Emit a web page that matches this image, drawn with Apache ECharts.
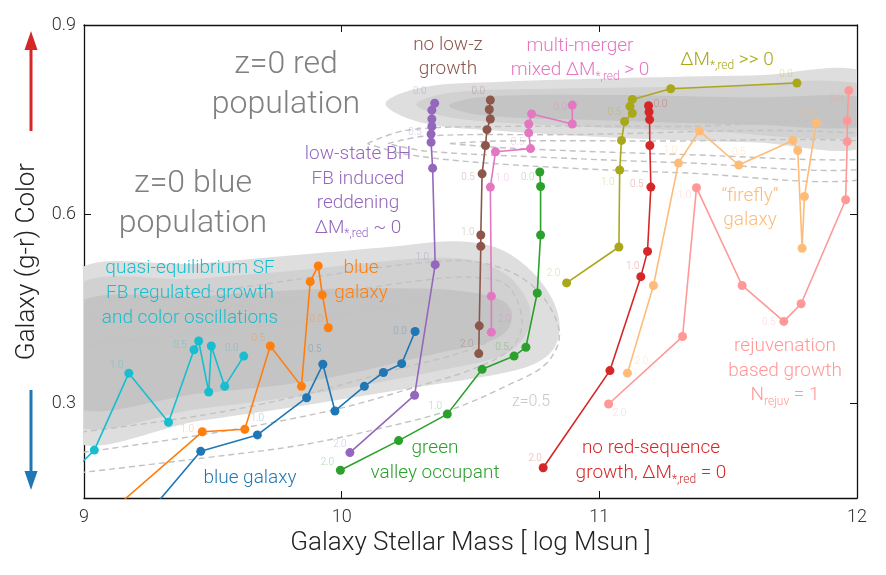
<!DOCTYPE html>
<html>
<head>
<meta charset="utf-8">
<script src="https://cdn.jsdelivr.net/npm/echarts@6/dist/echarts.min.js"></script>
<style>
  html, body { margin: 0; padding: 0; background: #fff; }
  #chart { width: 886px; height: 575px; }
</style>
</head>
<body>
<div id="chart"></div>
<script>
// galaxy tracks: [log Mstar, g-r], ordered from t=0.0 backwards in time
const cyanTrack = [[9.620,0.375],[9.546,0.327],[9.494,0.391],[9.484,0.318],[9.445,0.399],[9.427,0.385],[9.328,0.270],[9.174,0.348],[9.040,0.226],[8.95,0.189]]
const orangeTrack = [[9.948,0.420],[9.925,0.472],[9.909,0.518],[9.878,0.493],[9.844,0.327],[9.723,0.391],[9.624,0.259],[9.459,0.255],[9.023,0.10]]
const blueTrack = [[10.285,0.414],[10.233,0.363],[10.162,0.349],[10.088,0.327],[9.974,0.288],[9.927,0.362],[9.864,0.309],[9.673,0.250],[9.453,0.224],[9.196,0.10]]
const purpleTrack = [[10.361,0.776],[10.350,0.765],[10.350,0.751],[10.350,0.739],[10.347,0.727],[10.347,0.714],[10.353,0.673],[10.363,0.520],[10.283,0.313],[10.032,0.222]]
const brownTrack = [[10.577,0.781],[10.573,0.766],[10.577,0.751],[10.564,0.734],[10.558,0.709],[10.545,0.664],[10.540,0.567],[10.540,0.549],[10.534,0.423],[10.532,0.379]]
const pinkTrack = [[10.895,0.773],[10.895,0.743],[10.737,0.759],[10.726,0.743],[10.726,0.729],[10.733,0.704],[10.597,0.699],[10.577,0.643],[10.581,0.470],[10.581,0.413]]
const greenTrack = [[10.769,0.667],[10.772,0.644],[10.772,0.567],[10.759,0.475],[10.715,0.389],[10.669,0.375],[10.545,0.354],[10.410,0.283],[10.221,0.241],[9.995,0.194]]
const oliveTrack = [[11.767,0.808],[11.277,0.799],[11.128,0.782],[11.119,0.771],[11.128,0.760],[11.098,0.747],[11.086,0.717],[11.079,0.670],[11.076,0.548],[10.873,0.491]]
const redTrack = [[11.191,0.772],[11.193,0.762],[11.195,0.750],[11.196,0.709],[11.200,0.643],[11.187,0.541],[11.161,0.501],[11.041,0.352],[10.782,0.198]]
const fireflyTrack = [[11.842,0.745],[11.796,0.628],[11.787,0.546],[11.770,0.701],[11.751,0.717],[11.541,0.678],[11.388,0.732],[11.307,0.681],[11.210,0.487],[11.109,0.348]]
const rejuvTrack = [[11.968,0.796],[11.962,0.748],[11.962,0.715],[11.956,0.623],[11.783,0.458],[11.716,0.430],[11.554,0.487],[11.377,0.642],[11.323,0.406],[11.036,0.299]]

// lookback-time labels: [point index, text]
const cyanTimes = [[0,'0.0'],[5,'0.5'],[7,'1.0']]
const orangeTimes = [[0,'0.0'],[5,'0.5'],[7,'1.0']]
const blueTimes = [[0,'0.0'],[5,'0.5'],[7,'1.0']]
const purpleTimes = [[0,'0.0'],[4,'0.5'],[7,'1.0'],[9,'2.0']]
const brownTimes = [[0,'0.0'],[5,'0.5'],[6,'1.0'],[9,'2.0']]
const pinkTimes = [[0,'0.0'],[5,'0.5'],[7,'1.0'],[9,'2.0']]
const greenTimes = [[0,'0.0'],[5,'0.5'],[7,'1.0'],[9,'2.0']]
const oliveTimes = [[0,'0.0'],[5,'0.5'],[7,'1.0'],[9,'2.0']]
const redTimes = [[0,'0.0'],[4,'0.5'],[6,'1.0'],[8,'2.0']]
const fireflyTimes = [[0,'0.0'],[5,'0.5'],[7,'1.0'],[9,'2.0']]
const rejuvTimes = [[0,'0.0'],[5,'0.5'],[7,'1.0'],[9,'2.0']]

// z=0 population density regions (outer -> inner)
const redPopOuter = [[10.17,0.775],[10.311,0.801],[10.623,0.810],[11.089,0.816],[11.595,0.820],[12.05,0.822],[12.05,0.710],[11.595,0.714],[11.089,0.721],[10.623,0.732],[10.311,0.745]]
const redPopMid = [[10.29,0.774],[10.428,0.793],[10.817,0.799],[11.401,0.802],[12.05,0.803],[12.05,0.727],[11.401,0.732],[10.817,0.741],[10.428,0.753]]
const redPopCore = [[10.416,0.772],[10.545,0.786],[11.012,0.789],[11.6,0.785],[12.05,0.783],[12.05,0.741],[11.6,0.742],[11.012,0.749],[10.545,0.757]]
const bluePopOuter = [[8.95,0.502],[9.455,0.522],[9.903,0.538],[10.233,0.550],[10.424,0.557],[10.584,0.549],[10.700,0.523],[10.798,0.479],[10.844,0.432],[10.829,0.391],[10.759,0.365],[10.623,0.348],[10.292,0.326],[9.903,0.300],[9.455,0.273],[8.95,0.245]]
const bluePopMid = [[8.95,0.480],[9.455,0.498],[9.903,0.514],[10.311,0.530],[10.506,0.527],[10.642,0.503],[10.720,0.463],[10.732,0.432],[10.700,0.400],[10.623,0.376],[10.428,0.356],[9.903,0.316],[9.455,0.292],[8.95,0.270]]
const bluePopCore = [[8.95,0.453],[9.455,0.470],[9.903,0.481],[10.311,0.482],[10.506,0.476],[10.623,0.463],[10.661,0.443],[10.642,0.416],[10.564,0.397],[10.389,0.381],[9.903,0.337],[9.455,0.316],[8.95,0.297]]

// z=0.5 contours
const blueLoopA = [[8.9,0.455],[9.455,0.476],[9.903,0.501],[10.311,0.523],[10.545,0.523],[10.739,0.487],[10.844,0.416],[10.798,0.365],[10.646,0.329],[10.416,0.289],[10.156,0.261],[9.844,0.234],[9.455,0.213],[8.9,0.186]]
const blueLoopB = [[8.9,0.428],[9.455,0.448],[9.903,0.471],[10.311,0.495],[10.506,0.500],[10.642,0.487],[10.700,0.432],[10.661,0.389],[10.525,0.357],[10.311,0.329],[9.961,0.289],[9.455,0.250],[8.9,0.217]]
const blueLoopC = [[8.9,0.389],[9.455,0.411],[9.903,0.435],[10.311,0.463],[10.467,0.474],[10.584,0.463],[10.623,0.432],[10.584,0.403],[10.467,0.381],[10.233,0.356],[9.844,0.313],[9.455,0.281],[8.9,0.250]]
const redLoopA = [[10.10,0.712],[10.25,0.733],[10.6,0.739],[11.3,0.739],[12.1,0.738],[12.1,0.660],[11.3,0.666],[10.6,0.680],[10.25,0.695],[10.10,0.712]]
const redLoopB = [[10.18,0.712],[10.33,0.724],[10.8,0.726],[12.1,0.725],[12.1,0.674],[11.3,0.682],[10.8,0.690],[10.33,0.700],[10.18,0.712]]
const redLoopC = [[10.42,0.712],[10.6,0.716],[11.2,0.716],[12.1,0.714],[12.1,0.688],[11.3,0.695],[10.8,0.702],[10.6,0.706],[10.42,0.712]]

const yTicks = [0.3, 0.6, 0.9]

// label offsets (px) for the time labels, same order as the *Times arrays
const offs = {
  cyan: [[-12,-8],[-14,-4],[-12,-8]],
  orange: [[-12,-8],[-12,-8],[-15,-2]],
  blue: [[-15,0],[-8,-15],[0,-16]],
  purple: [[-15,-12],[-16,-2],[-13,-7],[-10,-8]],
  brown: [[-12,-9],[-14,4],[-13,-3],[-12,-9]],
  pink: [[-12,2],[-13,-6],[12,-9],[13,-13]],
  green: [[-12,6],[-12,-9],[-12,-8],[-13,-8]],
  olive: [[-11,-9],[-10,-9],[-12,12],[-13,-9]],
  red: [[12,-1],[-14,-3],[-8,-10],[-8,-9]],
  firefly: [[-8,-9],[0,-13],[-8,-13],[14,-12]],
  rejuv: [[-12,8],[-15,1],[-12,8],[11,9]]
}

const FONT = 'Roboto'

function trackSeries(pts, times, off, color) {
  const data = pts.map(p => ({ value: p }))
  times.forEach((t, k) => {
    data[t[0]].label = { show: true, formatter: t[1], position: 'inside', offset: off[k] }
  })
  return {
    type: 'line',
    data: data,
    symbol: 'circle',
    symbolSize: 9,
    showSymbol: true,
    lineStyle: { color: color, width: 1.6 },
    itemStyle: { color: color },
    label: { show: false, color: color, opacity: 0.38, fontSize: 10, fontFamily: FONT, fontWeight: 300 },
    emphasis: { disabled: true },
    z: 5
  }
}

function shade(poly, color) {
  return {
    type: 'custom',
    data: [poly[0]],
    silent: true,
    z: 1,
    renderItem(params, api) {
      const cs = params.coordSys
      return {
        type: 'polygon',
        shape: { points: poly.map(p => api.coord(p)), smooth: 0.35 },
        style: { fill: color },
        clipPath: { type: 'rect', shape: { x: cs.x, y: cs.y, width: cs.width, height: cs.height } }
      }
    }
  }
}

function dashed(poly) {
  return {
    type: 'custom',
    data: [poly[0]],
    silent: true,
    z: 2,
    renderItem(params, api) {
      const cs = params.coordSys
      return {
        type: 'polyline',
        shape: { points: poly.map(p => api.coord(p)), smooth: 0.35 },
        style: { stroke: '#c2c2c2', lineWidth: 1.4, lineDash: [6, 4], fill: null },
        clipPath: { type: 'rect', shape: { x: cs.x, y: cs.y, width: cs.width, height: cs.height } }
      }
    }
  }
}

const sub = { fontSize: 12, verticalAlign: 'bottom', lineHeight: 14, fontFamily: FONT, fontWeight: 300 }
function txt(x, y, text, color, size, lh, rich) {
  const style = {
    text: text, fill: color, align: 'center', verticalAlign: 'middle',
    fontSize: size, fontFamily: FONT, fontWeight: 300, lineHeight: lh
  }
  if (rich) {
    style.rich = {
      n: { fontSize: size, lineHeight: lh, fontFamily: FONT, fontWeight: 300, fill: color, color: color },
      s: Object.assign({ fill: color, color: color }, sub)
    }
  }
  return { type: 'text', x: x, y: y, z: 100, silent: true, style: style }
}

const chart = echarts.init(document.getElementById('chart'), null, { renderer: 'canvas' })

chart.setOption({
  animation: false,
  backgroundColor: '#fff',
  grid: { left: 84, right: 29, top: 25, bottom: 77 },
  xAxis: [{
    type: 'value', min: 9, max: 12, interval: 1,
    name: 'Galaxy Stellar Mass [ log Msun ]', nameLocation: 'middle', nameGap: 30,
    nameTextStyle: { fontSize: 26, fontFamily: FONT, fontWeight: 300, color: '#222' },
    axisLine: { show: true, lineStyle: { color: '#111', width: 1.3 } },
    axisTick: { show: true, inside: true, length: 7, lineStyle: { color: '#111' } },
    axisLabel: { fontSize: 18, fontFamily: FONT, fontWeight: 300, color: '#333', margin: 10 },
    splitLine: { show: false }
  }, {
    type: 'value', min: 9, max: 12, interval: 1, position: 'top',
    axisLine: { show: true, lineStyle: { color: '#111', width: 1.3 } },
    axisTick: { show: true, inside: true, length: 7, lineStyle: { color: '#111' } },
    axisLabel: { show: false },
    splitLine: { show: false }
  }],
  yAxis: [{
    type: 'value', min: 0.15, max: 0.9,
    name: 'Galaxy (g-r) Color', nameLocation: 'middle', nameGap: 38, nameRotate: 90,
    nameTextStyle: { fontSize: 26, fontFamily: FONT, fontWeight: 300, color: '#222' },
    axisLine: { show: true, lineStyle: { color: '#111', width: 1.3 } },
    axisTick: { show: true, inside: true, length: 7, customValues: yTicks, lineStyle: { color: '#111' } },
    axisLabel: { fontSize: 18, fontFamily: FONT, fontWeight: 300, color: '#333', margin: 8,
      customValues: yTicks, formatter: v => v.toFixed(1) },
    splitLine: { show: false }
  }, {
    type: 'value', min: 0.15, max: 0.9, position: 'right',
    axisLine: { show: true, lineStyle: { color: '#111', width: 1.3 } },
    axisTick: { show: true, inside: true, length: 7, customValues: yTicks, lineStyle: { color: '#111' } },
    axisLabel: { show: false },
    splitLine: { show: false }
  }],
  series: [
    shade(bluePopOuter, '#dedede'),
    shade(bluePopMid, '#d1d1d1'),
    shade(bluePopCore, '#c4c4c4'),
    shade(redPopOuter, '#dedede'),
    shade(redPopMid, '#d1d1d1'),
    shade(redPopCore, '#c4c4c4'),
    dashed(blueLoopA), dashed(blueLoopB), dashed(blueLoopC),
    dashed(redLoopA), dashed(redLoopB), dashed(redLoopC),
    trackSeries(cyanTrack, cyanTimes, offs.cyan, '#17becf'),
    trackSeries(orangeTrack, orangeTimes, offs.orange, '#ff7f0e'),
    trackSeries(blueTrack, blueTimes, offs.blue, '#1f77b4'),
    trackSeries(purpleTrack, purpleTimes, offs.purple, '#9467bd'),
    trackSeries(brownTrack, brownTimes, offs.brown, '#8c564b'),
    trackSeries(pinkTrack, pinkTimes, offs.pink, '#e377c2'),
    trackSeries(greenTrack, greenTimes, offs.green, '#2ca02c'),
    trackSeries(oliveTrack, oliveTimes, offs.olive, '#a9a81a'),
    trackSeries(redTrack, redTimes, offs.red, '#d62728'),
    trackSeries(fireflyTrack, fireflyTimes, offs.firefly, '#ffbb78'),
    trackSeries(rejuvTrack, rejuvTimes, offs.rejuv, '#ff9896')
  ],
  graphic: [
    // colour arrows next to the y axis name
    { type: 'line', shape: { x1: 31, y1: 131, x2: 31, y2: 48 }, style: { stroke: '#d62728', lineWidth: 3 } },
    { type: 'polygon', shape: { points: [[31, 31], [24.5, 50], [37.5, 50]] }, style: { fill: '#d62728' } },
    { type: 'line', shape: { x1: 31, y1: 390, x2: 31, y2: 473 }, style: { stroke: '#1f77b4', lineWidth: 3 } },
    { type: 'polygon', shape: { points: [[31, 490], [24.5, 471], [37.5, 471]] }, style: { fill: '#1f77b4' } },

    txt(286, 85, 'z=0 red\npopulation', '#808080', 32, 40),
    txt(193, 204, 'z=0 blue\npopulation', '#808080', 32, 40),
    txt(358, 191, '{n|low-state BH}\n{n|FB induced}\n{n|reddening}\n{n|ΔM}{s|*,red}{n| ~ 0}', '#9467bd', 19, 24.5, true),
    txt(448, 57, 'no low-z\ngrowth', '#8c564b', 19, 24.5),
    txt(580, 58, '{n|multi-merger}\n{n|mixed ΔM}{s|*,red}{n| > 0}', '#e377c2', 19, 24.5, true),
    txt(727, 60, '{n|ΔM}{s|*,red}{n| >> 0}', '#a9a81a', 19, 24.5, true),
    txt(190, 293, 'quasi-equilibrium SF\nFB regulated growth\nand color oscillations', '#17becf', 19, 25),
    txt(361, 281, 'blue\ngalaxy', '#ff7f0e', 19, 25),
    txt(250, 478, 'blue galaxy', '#1f77b4', 19, 25),
    txt(435, 461, 'green\nvalley occupant', '#2ca02c', 19, 25),
    txt(651, 461, '{n|no red-sequence}\n{n|growth, ΔM}{s|*,red}{n| = 0}', '#d62728', 19, 25, true),
    txt(750, 208, '“firefly”\ngalaxy', '#ffbb78', 19, 24.5),
    txt(785, 371, '{n|rejuvenation}\n{n|based growth}\n{n|N}{s|rejuv}{n| = 1}', '#ff9896', 19, 24.5, true),
    txt(531, 402, 'z=0.5', '#c8c8c8', 16, 20)
  ]
})
</script>
</body>
</html>
